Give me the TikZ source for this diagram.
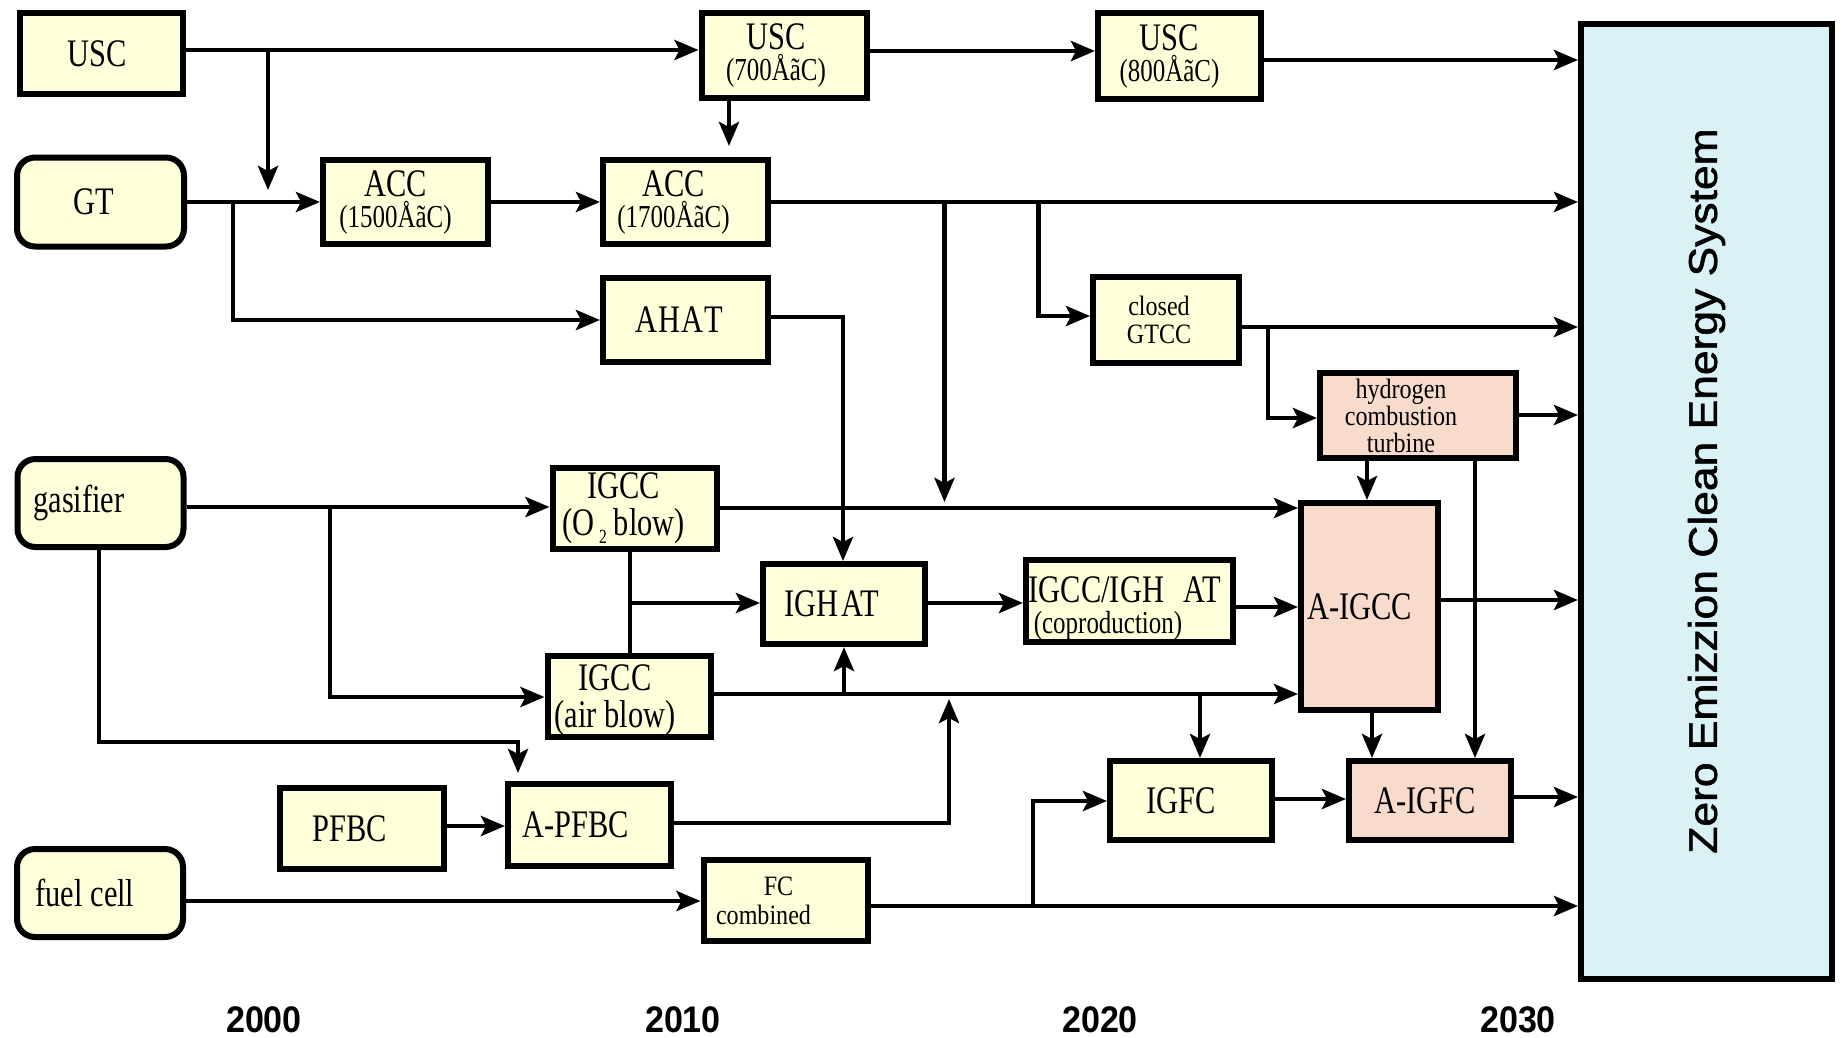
\documentclass[tikz,border=0pt]{standalone}
\usepackage{fontspec}
\usepackage{graphicx}
\usetikzlibrary{arrows.meta}
\newfontfamily\tnr[FakeStretch=0.78]{Liberation Serif}
\newfontfamily\tnrw[FakeStretch=0.86]{Liberation Serif}
\newfontfamily\yrfont[FakeStretch=0.92]{Liberation Sans}
\newfontfamily\zfont[FakeStretch=1.11,FakeBold=1.5]{Liberation Sans}
\newcommand\fA{\tnr\fontsize{39}{39}\selectfont}
\newcommand\fB{\tnr\fontsize{32}{32}\selectfont}
\newcommand\fC{\tnrw\fontsize{28}{28}\selectfont}
\newcommand\tl[3]{\hspace*{#1}\vbox{\baselineskip=#2\lineskiplimit=-\maxdimen\halign{\hfil##\hfil\cr#3\crcr}}}
\definecolor{boxy}{HTML}{FFFFD9}
\definecolor{boxp}{HTML}{F9DBCB}
\definecolor{boxz}{HTML}{DAF1F6}
\begin{document}
\begin{tikzpicture}[x=1pt,y=-1pt,line join=miter,
  sz/.style 2 args={minimum width=#1pt,minimum height=#2pt},
  box/.style={draw,line width=6pt,fill=boxy,inner sep=0pt,font=\fA},
  rbox/.style={box,rounded corners=18pt},
  pbox/.style={box,fill=boxp},
  zbox/.style={box,fill=boxz,font=\zfont\fontsize{40}{40}\selectfont},
  yr/.style={inner sep=0pt,font=\yrfont\bfseries\fontsize{37}{37}\selectfont},
  arr/.style={line width=4.5pt,-{Stealth[length=24pt,width=20pt,inset=5pt]}},
  ln/.style={line width=4.5pt}]
\useasboundingbox (0,0) rectangle (1842,1037);
\fill[white] (0,0) rectangle (1842,1037);

% boxes
\node[box,sz={163}{81}] (usc1) at (101.5,53.5) {\hspace*{-8pt}USC};
\node[rbox,sz={167}{89}] (gt) at (100.5,202) {\hspace*{-14pt}GT};
\node[box,sz={165}{85}] (usc700) at (784,55.5) {\tl{-16pt}{31pt}{USC\cr\fB(700ÅãC)}};
\node[box,sz={163}{86}] (usc800) at (1179.5,56) {\tl{-20pt}{31pt}{USC\cr\fB(800ÅãC)}};
\node[box,sz={165}{84}] (acc1500) at (405.5,202) {\tl{-20pt}{31pt}{ACC\cr\fB(1500ÅãC)}};
\node[box,sz={165}{84}] (acc1700) at (685.5,202) {\tl{-24pt}{31pt}{ACC\cr\fB(1700ÅãC)}};
\node[box,sz={165}{84}] (ahat) at (685.5,320) {\hspace*{-13pt}A\kern1pt H\kern1pt A\kern1pt T};
\node[box,sz={146}{86}] (gtcc) at (1166,320) {\tl{-14pt}{28pt}{\fC closed\cr\fC GTCC}};
\node[pbox,sz={196}{85}] (hyd) at (1418,415.5) {\tl{-34pt}{27pt}{\fC hydrogen\cr\fC combustion\cr\fC turbine}};
\node[zbox,sz={251}{955}] (zero) at (1706.5,501.5) {\rotatebox{90}{\hspace*{21pt}Zero Emizzion Clean Energy System}};
\node[rbox,sz={166}{88}] (gas) at (100.5,503) {\hspace*{-43pt}gasifier};
\node[box,sz={164}{81}] (igcco) at (634.5,508.5) {\tl{-22pt}{37pt}{IGCC\cr(O\kern5pt\raisebox{-8pt}{\fontsize{20}{20}\selectfont 2}\kern7pt blow)}};
\node[box,sz={162}{80}] (ighat) at (844,604) {\hspace*{-25pt}IGH\kern3pt AT};
\node[box,sz={207}{82}] (igccighat) at (1129.5,601) {\rule{0pt}{72pt}\tl{-9pt}{31pt}{IGCC/IGH\kern20pt AT\cr\fB(coproduction)\kern34pt}};
\node[pbox,sz={137}{207}] (aigcc) at (1369.5,606.5) {\hspace*{-20pt}A-IGCC};
\node[box,sz={163}{81}] (igcca) at (629,696.5) {\rule{0pt}{71pt}\tl{-28pt}{37pt}{IGCC\cr(air blow)}};
\node[box,sz={164}{81}] (pfbc) at (361.5,828.5) {\hspace*{-23pt}PFBC};
\node[box,sz={163}{82}] (apfbc) at (589.5,825) {\hspace*{-27pt}A-PFBC};
\node[rbox,sz={166}{88}] (fuel) at (100,893) {\hspace*{-30pt}fuel cell};
\node[box,sz={164}{81}] (fc) at (785.5,900.5) {\tl{-44pt}{29pt}{\fC\kern30pt FC\cr\fC combined}};
\node[box,sz={162}{79}] (igfc) at (1191,800.5) {\hspace*{-20pt}IGFC};
\node[pbox,sz={162}{79}] (aigfc) at (1430,800.5) {\hspace*{-10pt}A-IGFC};

% years
\node[yr] (y2000) at (264,1020) {2000};
\node[yr] (y2010) at (683,1020) {2010};
\node[yr] (y2020) at (1100,1020) {2020};
\node[yr] (y2030) at (1518,1020) {2030};

% junction coordinates
\coordinate (jA) at (268,50);  \coordinate (eA) at (268,190);
\coordinate (jB) at (233,202); \coordinate (kB) at (233,320);
\coordinate (eC) at (729,146);
\coordinate (jD) at (944.5,202); \coordinate (eD) at (944.5,502);
\coordinate (jE) at (1038.5,202); \coordinate (kE) at (1038.5,316);
\coordinate (kF) at (843,317);
\coordinate (jG) at (1268,327); \coordinate (kG) at (1268,418);
\coordinate (xH) at (1367,0);
\coordinate (xI) at (1475,0);
\coordinate (jJ) at (330,507); \coordinate (kJ) at (330,697);
\coordinate (kK) at (99,742); \coordinate (lK) at (518,742); \coordinate (eK) at (518,773);
\coordinate (xL) at (630,0); \coordinate (jL) at (630,603);
\coordinate (jM) at (844,694);
\coordinate (jN) at (1200,694);
\coordinate (kO) at (949,823); \coordinate (eO) at (949,699);
\coordinate (xP) at (1372,0);
\coordinate (jQ) at (1033,906); \coordinate (kQ) at (1033,801);

% connectors
\draw[arr] (usc1.east |- jA) -- (usc700.west |- jA);
\draw[arr] (jA) -- (eA);
\draw[arr] (gt.east) -- (acc1500.west);
\draw[arr] (jB) -- (kB) -- (ahat.west);
\draw[arr] (acc1500.east) -- (acc1700.west);
\draw[arr] (usc700.south -| eC) -- (eC);
\draw[arr] (usc700.east |- 0,51) -- (usc800.west |- 0,51);
\draw[arr] (usc800.east |- 0,60) -- (zero.west |- 0,60);
\draw[arr] (acc1700.east) -- (zero.west |- acc1700.east);
\draw[arr] (jD) -- (eD);
\draw[arr] (jE) -- (kE) -- (gtcc.west |- kE);
\draw[arr] (ahat.east |- kF) -- (kF) -- (ighat.north -| kF);
\draw[arr] (gtcc.east |- jG) -- (zero.west |- jG);
\draw[arr] (jG) -- (kG) -- (hyd.west |- kG);
\draw[arr] (hyd.east |- 0,415) -- (zero.west |- 0,415);
\draw[arr] (hyd.south -| xH) -- (aigcc.north -| xH);
\draw[arr] (hyd.south -| xI) -- (aigfc.north -| xI);
\draw[arr] (gas.east |- jJ) -- (igcco.west |- jJ);
\draw[arr] (jJ) -- (kJ) -- (igcca.west |- kJ);
\draw[arr] (gas.south -| kK) -- (kK) -- (lK) -- (eK);
\draw[arr] (igcco.east |- 0,508) -- (aigcc.west |- 0,508);
\draw[ln] (igcco.south -| xL) -- (igcca.north -| xL);
\draw[arr] (jL) -- (ighat.west |- jL);
\draw[arr] (ighat.east |- jL) -- (igccighat.west |- jL);
\draw[arr] (igccighat.east |- 0,607) -- (aigcc.west |- 0,607);
\draw[arr] (aigcc.east |- 0,600) -- (zero.west |- 0,600);
\draw[arr] (igcca.east |- jM) -- (aigcc.west |- jM);
\draw[arr] (jM) -- (ighat.south);
\draw[arr] (jN) -- (igfc.north -| jN);
\draw[arr] (apfbc.east |- kO) -- (kO) -- (eO);
\draw[arr] (pfbc.east |- 0,826) -- (apfbc.west |- 0,826);
\draw[arr] (aigcc.south -| xP) -- (aigfc.north -| xP);
\draw[arr] (igfc.east |- 0,799) -- (aigfc.west |- 0,799);
\draw[arr] (aigfc.east |- 0,797) -- (zero.west |- 0,797);
\draw[arr] (fuel.east |- 0,901) -- (fc.west |- 0,901);
\draw[arr] (fc.east |- jQ) -- (zero.west |- jQ);
\draw[arr] (jQ) -- (kQ) -- (igfc.west |- kQ);
\end{tikzpicture}
\end{document}
